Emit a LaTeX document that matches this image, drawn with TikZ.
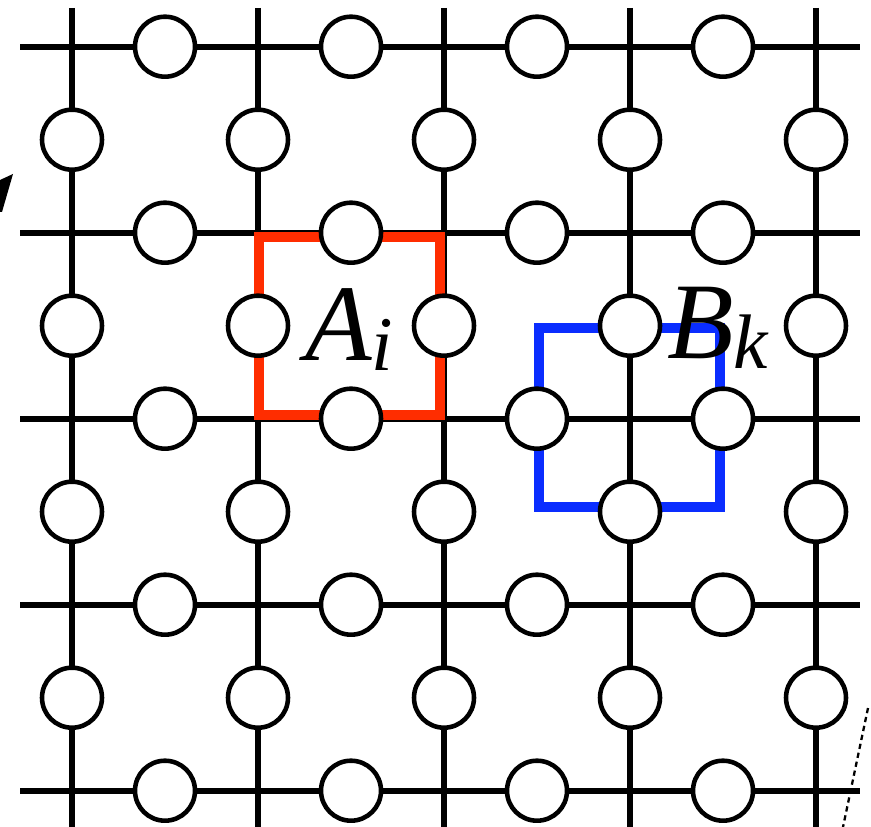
\documentclass[tikz,border=0pt]{standalone}
\usepackage{fontspec}
\setmainfont{Liberation Serif}
\usetikzlibrary{positioning}
\definecolor{plaqred}{RGB}{255,45,0}
\definecolor{starblue}{RGB}{10,45,255}
\tikzset{
  bond/.style={line width=3.4pt},
  spin/.style={circle,draw,fill=white,line width=2.6pt,minimum size=1.2cm,inner sep=0pt},
  opbox/.style={line width=5.6pt},
  oplabel/.style={font=\fontsize{62}{62}\selectfont\itshape,inner sep=0pt},
}
\newcommand{\subsym}[1]{\raisebox{-0.1em}{\fontsize{44}{44}\selectfont #1}}

\begin{document}
\begin{tikzpicture}[x=0.02cm,y=-0.02cm]
        \useasboundingbox (0,0) rectangle (871,827);
        % bonds of the lattice, loose ends at the border
        \foreach \j in {0,...,4}{
            \coordinate (w\j) at (20,46.7+186*\j);
            \coordinate (e\j) at (860,46.7+186*\j);
            \draw[bond] (w\j) -- (e\j);
        }
        \foreach \i in {0,...,4}{
            \coordinate (n\i) at (72+186*\i,8);
            \coordinate (s\i) at (72+186*\i,827);
            \draw[bond] (n\i) -- (s\i);
        }
        % plaquette and star
        \draw[opbox,plaqred] (259,237) rectangle (440,415);
        \draw[opbox,starblue] (539,328) rectangle (720,507);
        % spins on the bonds
        \foreach \i in {0,...,3}{
            \foreach \j in {0,...,4}{
                \node[spin] (h\i\j) at (165+186*\i,46.7+186*\j) {};
            }
        }
        \foreach \i in {0,...,4}{
            \foreach \j in {0,...,3}{
                \node[spin] (u\i\j) at (72+186*\i,139.7+186*\j) {};
            }
        }
        \node[oplabel,anchor=base west] (Alab) at (305,360) {A\subsym{i}};
        \node[oplabel,anchor=base west] (Blab) at (667,358) {B\subsym{k}};
        % cut pieces at the edges
        \fill (13,174) -- (0,180) -- (0,212) -- (2,212) -- cycle;
        \draw[line width=1.3pt,dash pattern=on 3pt off 2.2pt] (868,708) -- (843,827);
    \end{tikzpicture}
\end{document}
